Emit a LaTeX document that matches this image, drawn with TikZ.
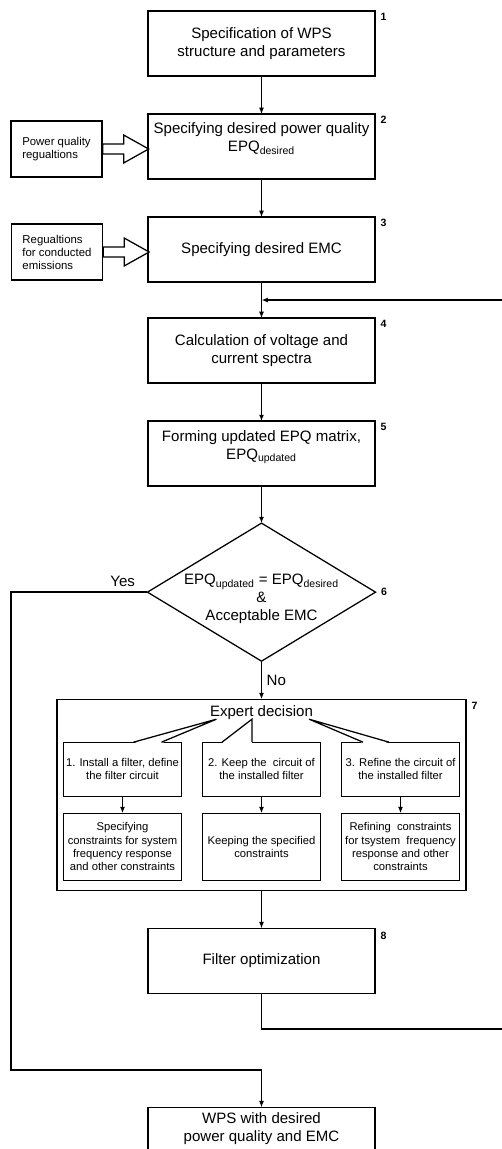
\documentclass[tikz,border=0pt]{standalone}
\usepackage{fontspec}
\setmainfont{Liberation Sans}
\usetikzlibrary{positioning, shapes.geometric, arrows.meta, calc}

\begin{document}
\begin{tikzpicture}[x=0.025cm, y=-0.025cm, >={Latex[length=4.5pt,width=3.5pt]}, node distance=0.95cm, line width=0.75pt,
    block/.style={draw, line width=0.9pt, outer sep=0pt, minimum width=5.675cm, minimum height=1.625cm, align=center, inner sep=2pt, font=\fontsize{10.7}{12.8}\selectfont},
    cond/.style={draw, diamond, line width=0.9pt, outer sep=0pt, minimum width=5.7cm, minimum height=3.45cm, inner sep=0pt},
    side/.style={draw, line width=0.9pt, minimum width=2.275cm, minimum height=1.4cm, align=left, inner sep=2pt, font=\fontsize{8.1}{9.2}\selectfont},
    small/.style={draw, line width=0.9pt, outer sep=0pt, minimum width=2.95cm, align=center, inner xsep=1pt, font=\fontsize{8}{9.4}\selectfont},
    num/.style={anchor=north west, inner sep=0pt, font=\bfseries\fontsize{7.5}{8}\selectfont},
    bigarrow/.style={draw, line width=0.9pt, fill=white, line join=miter},
    thickline/.style={line width=1.3pt}]

\useasboundingbox (0,0) rectangle (501,1149);

% main chain
\node[block] (spec) at (261.5,43.5) {Specification of WPS\\structure and parameters};
\node[block] (pq) [below=of spec] {Specifying desired power quality\\EPQ\textsubscript{desired}\\~};
\node[block] (emc) [below=of pq] {Specifying desired EMC};
\node[block] (spectra) [below=0.9cm of emc] {Calculation of voltage and\\current spectra};
\node[block] (epq) [below=of spectra] {Forming updated EPQ matrix,\\EPQ\textsubscript{updated}\\~};
\node[cond] (check) [below=0.925cm of epq] {};
\node[align=center, font=\fontsize{10.7}{12.8}\selectfont] (checktext) at ($(check.center)+(0,7)$) {EPQ\textsubscript{updated} = EPQ\textsubscript{desired}\\\&\\Acceptable EMC};
\node[draw, line width=0.9pt, outer sep=0pt, minimum width=10.225cm, minimum height=4.775cm] (expert) [below=of check] {};
\node[block] (filt) [below=of expert] {Filter optimization};
\node[block] (wps) [below=2.85cm of filt] {WPS with desired\\power quality and EMC\\[5pt]~};

% regulations on the left
\node[side] (pqreg) at (56.5,149) {Power quality\\regualtions};
\node[side] (emcreg) at (57,252) {Regualtions\\for conducted\\emissions};
\draw[bigarrow] (pqreg.east) ++(0,-5) -- ++(21,0) -- ++(0,-9) -- ++(25,14) -- ++(-25,14) -- ++(0,-9) -- ++(-21,0) -- cycle;
\draw[bigarrow] (emcreg.east) ++(0,-5) -- ++(21,0) -- ++(0,-9) -- ++(25,14) -- ++(-25,14) -- ++(0,-9) -- ++(-21,0) -- cycle;

% step numbers
\node[num] at ($(spec.north east)+(5,2)$) {1};
\node[num] at ($(pq.north east)+(5,2)$) {2};
\node[num] at ($(emc.north east)+(5,2)$) {3};
\node[num] at ($(spectra.north east)+(5,2)$) {4};
\node[num] at ($(epq.north east)+(5,2)$) {5};
\node[num, anchor=west] at ($(check.east)+(5,0)$) {6};
\node[num] at ($(expert.north east)+(5,3)$) {7};
\node[num] at ($(filt.north east)+(5,3)$) {8};

% expert decision
\node[font=\fontsize{10.7}{12.8}\selectfont] (edec) at ($(expert.north)+(0,13)$) {Expert decision};
\node[small, minimum height=1.35cm] (opt1) at ($(expert.north)+(-139,70)$) {1. Install a filter, define\\the filter circuit};
\node[small, minimum height=1.35cm] (opt2) at ($(expert.north)+(0,70)$) {2. Keep the~~circuit of\\the installed filter};
\node[small, minimum height=1.35cm] (opt3) at ($(expert.north)+(139,70)$) {3. Refine the circuit of\\the installed filter};
\node[small, minimum height=1.675cm] (cons1) [below=0.425cm of opt1] {Specifying\\constraints for system\\frequency response\\and other constraints};
\node[small, minimum height=1.675cm] (cons2) [below=0.425cm of opt2] {Keeping the specified\\constraints};
\node[small, minimum height=1.675cm] (cons3) [below=0.425cm of opt3] {Refining~~constraints\\for tsystem~~frequency\\response and other\\constraints};

\foreach \opt/\ba/\bb/\tip in {opt1/11/39/94, opt2/-39.5/-9.5/-9.5, opt3/-37.5/-11.5/-91.5}{
  \fill[white] ($(\opt.north)+(\ba,1)$) -- ($(\opt.north)+(\tip,-23)$) -- ($(\opt.north)+(\bb,1)$) -- cycle;
  \draw[line width=0.9pt, line join=miter] ($(\opt.north)+(\ba,0)$) -- ($(\opt.north)+(\tip,-23)$) -- ($(\opt.north)+(\bb,0)$);
}
\foreach \i in {1,2,3}
  \draw[->] (opt\i) -- (cons\i);

% connectors
\draw[->] (spec) -- (pq);
\draw[->] (pq) -- (emc);
\draw[->] (emc) -- (spectra);
\draw[->] (spectra) -- (epq);
\draw[->] (epq) -- (check);
\draw[->] (check) -- node[right, font=\fontsize{10.7}{12.8}\selectfont] {No} (expert);
\draw[->] (expert) -- (filt);

% loop back
\coordinate (join) at ($(emc.south)!0.5!(spectra.north)$);
\coordinate (fbcorner) at (512,1029);
\draw[thickline, ->] (filt.south) |- (fbcorner) |- (join);

% yes branch
\coordinate (yescorner) at (11,1070);
\coordinate (yesend) at (yescorner -| wps.north);
\draw[thickline] (check.west) -| (yescorner) -- (yesend);
\draw[->] (yesend) -- (wps);
\node[anchor=south east, inner sep=0pt, font=\fontsize{10.7}{12.8}\selectfont] (yes) at ($(check.west)+(-12,-5)$) {Yes};
\end{tikzpicture}
\end{document}
